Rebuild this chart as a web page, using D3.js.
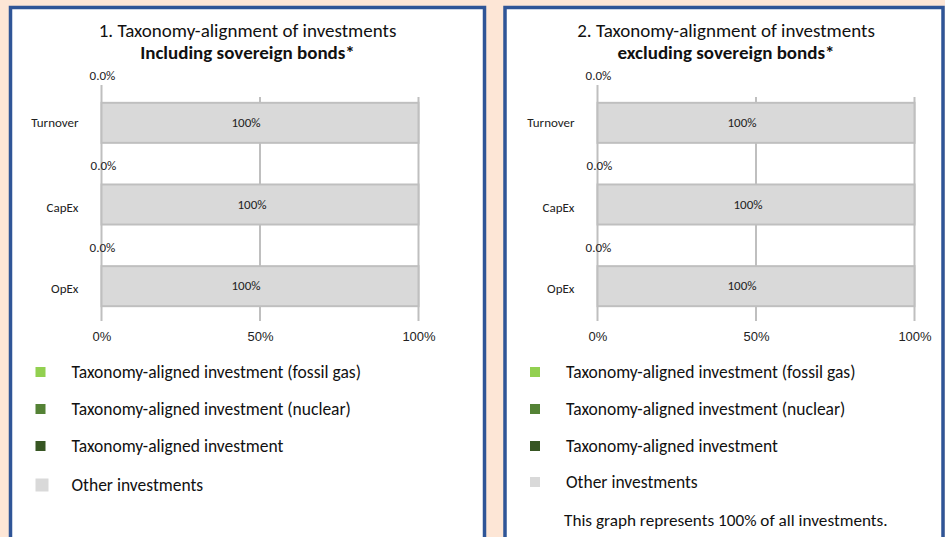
<!DOCTYPE html>
<html>
<head>
<meta charset="utf-8">
<script src="https://cdnjs.cloudflare.com/ajax/libs/d3/7.8.5/d3.min.js"></script>
<style>
body{margin:0;background:#fde6d6;}
svg{display:block;font-family:Carlito,Lato,"Open Sans",sans-serif;}
</style>
</head>
<body>
<div id="chart"></div>
<script>
// data
var categories=["Turnover","CapEx","OpEx"];
var inclAligned=[0,0,0], inclOther=[100,100,100];
var exclAligned=[0,0,0], exclOther=[100,100,100];
var xTicks=[0,50,100];
var titles1=["1. Taxonomy-alignment of investments","2. Taxonomy-alignment of investments"];
var titles2=["Including sovereign bonds*","excluding sovereign bonds*"];
var legendLabels=["Taxonomy-aligned investment (fossil gas)","Taxonomy-aligned investment (nuclear)","Taxonomy-aligned investment","Other investments"];
var note="This graph represents 100% of all investments.";

var legendColors=["#92d050","#548235","#375623","#d9d9d9"];
var W=945,H=537, small=13;
var svg=d3.select("#chart").append("svg").attr("width",W).attr("height",H);
svg.append("rect").attr("width",W).attr("height",H).attr("fill","#fde6d6");

function drawPanel(px,pw,idx,aligned,other){
	var g=svg.append("g");
	g.append("rect").attr("x",px).attr("y",7.5).attr("width",pw).attr("height",545)
		.attr("fill","#fff").attr("stroke","#2f5597").attr("stroke-width",3.5);
	var cx=px+pw/2+idx*2;
	g.append("text").attr("x",cx).attr("y",37).attr("text-anchor","middle")
		.attr("font-size",19).attr("fill","#111").text(titles1[idx]);
	g.append("text").attr("x",cx).attr("y",59).attr("text-anchor","middle")
		.attr("font-size",19).attr("font-weight","bold").attr("fill","#111").text(titles2[idx]);

	var x0=px+91-idx*(-1.5);
	var x=d3.scaleLinear().domain([0,100]).range([x0,x0+317]);
	var y=d3.scaleBand().domain(categories).range([82,327]).paddingInner(0.51).paddingOuter(0.255);

	// grid
	g.selectAll(".grid").data(xTicks).enter().append("line")
		.attr("x1",function(d){return x(d);}).attr("x2",function(d){return x(d);})
		.attr("y1",function(d){return d==0?85:97;}).attr("y2",321)
		.attr("stroke","#bfbfbf").attr("stroke-width",2);

	// bars: aligned (zero) then other stacked
	var rows=categories.map(function(c,i){return {c:c,a:aligned[i],o:other[i]};});
	g.selectAll(".al").data(rows).enter().append("rect")
		.attr("x",x(0)).attr("y",function(d){return y(d.c);})
		.attr("width",function(d){return x(d.a)-x(0);}).attr("height",y.bandwidth())
		.attr("fill","#375623");
	g.selectAll(".ot").data(rows).enter().append("rect")
		.attr("x",function(d){return x(d.a);}).attr("y",function(d){return y(d.c);})
		.attr("width",function(d){return x(d.a+d.o)-x(d.a);}).attr("height",y.bandwidth())
		.attr("fill","#d9d9d9").attr("stroke","#bfbfbf").attr("stroke-width",2);

	// labels
	g.selectAll(".ol").data(rows).enter().append("text")
		.attr("x",function(d,i){return x(d.a+d.o/2)-(i==1?8:14);})
		.attr("y",function(d){return y(d.c)+y.bandwidth()/2+4;})
		.attr("text-anchor","middle").attr("font-size",small).attr("fill","#222")
		.text(function(d){return d.o+"%";});
	g.selectAll(".alab").data(rows).enter().append("text")
		.attr("x",function(d,i){return x(d.a)+(i==1?2:1);})
		.attr("y",function(d,i){return y(d.c)-(i==0?23:14);})
		.attr("text-anchor","middle").attr("font-size",small).attr("fill","#222")
		.text(function(d){return d.a.toFixed(1)+"%";});

	// y axis labels
	g.selectAll(".cat").data(categories).enter().append("text")
		.attr("x",x0-23).attr("y",function(d){return y(d)+y.bandwidth()/2+4+(d=="Turnover"?0:3);})
		.attr("text-anchor","end").attr("font-size",small).attr("fill","#222").text(function(d){return d;});

	// x axis
	var ax=g.append("g").attr("transform","translate(0,329)")
		.call(d3.axisBottom(x).tickValues(xTicks).tickSize(0).tickFormat(function(d){return d+"%";}));
	ax.select(".domain").remove();
	ax.selectAll("text").attr("font-size",small).attr("fill","#222").attr("font-family",null).attr("dy","0.7em");

	// legend
	var ly=[372,409,446,idx==0?485:482];
	legendLabels.forEach(function(l,i){
		var s=i==3&&idx==0?13:10;
		g.append("rect").attr("x",px+25).attr("y",ly[i]-s/2).attr("width",s).attr("height",s).attr("fill",legendColors[i]);
		g.append("text").attr("x",px+61).attr("y",ly[i]+6).attr("font-size",17.5).attr("fill","#111").text(l);
	});
	if(idx==1){
		g.append("text").attr("x",px+59).attr("y",526).attr("font-size",17.2).attr("fill","#111").text(note);
	}
}
drawPanel(10.5,474,0,inclAligned,inclOther);
drawPanel(505,438,1,exclAligned,exclOther);
</script>
</body>
</html>
